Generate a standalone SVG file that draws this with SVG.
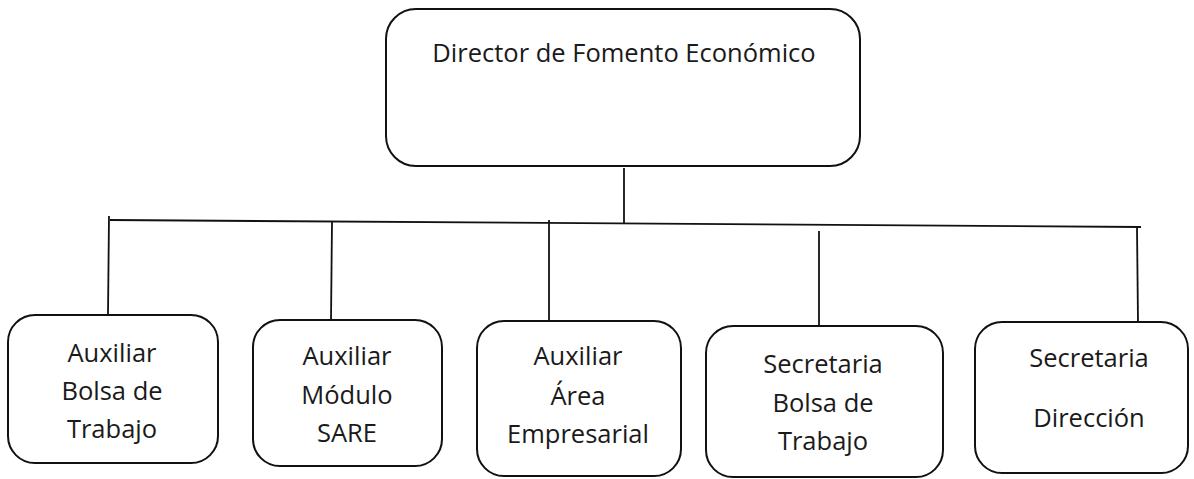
<svg xmlns="http://www.w3.org/2000/svg" width="1194" height="479" viewBox="0 0 1194 479">
<style>
.box{fill:#fff;stroke:#111;stroke-width:2}
.ln{stroke:#111;stroke-width:1.8;fill:none}
text{font-family:"Open Sans","Noto Sans",sans-serif;font-size:25.5px;fill:#1a1a1a;text-anchor:middle}
</style>
<rect width="1194" height="479" fill="#fff"/>
<g id="connectors">
<line class="ln" x1="624" y1="168" x2="624" y2="224"/>
<line class="ln" x1="110" y1="220" x2="1141" y2="227"/>
<line class="ln" x1="109" y1="216" x2="108" y2="315"/>
<line class="ln" x1="332" y1="222" x2="331" y2="320"/>
<line class="ln" x1="549" y1="220" x2="549" y2="327"/>
<line class="ln" x1="819" y1="231" x2="819" y2="327"/>
<line class="ln" x1="1137" y1="228" x2="1138" y2="322"/>
</g>
<g id="director">
<rect class="box" x="386" y="9" width="474" height="157" rx="30"/>
<text x="624" y="62">Director de Fomento Económico</text>
</g>
<g id="aux-bolsa">
<rect class="box" x="8" y="315" width="210" height="148" rx="27"/>
<text x="112" y="362">Auxiliar</text>
<text x="112" y="400">Bolsa de</text>
<text x="112" y="438">Trabajo</text>
</g>
<g id="aux-sare">
<rect class="box" x="253" y="320" width="189" height="146" rx="27"/>
<text x="347" y="365">Auxiliar</text>
<text x="347" y="404">Módulo</text>
<text x="347" y="442">SARE</text>
</g>
<g id="aux-area">
<rect class="box" x="477" y="321" width="204" height="155" rx="27"/>
<text x="578" y="365">Auxiliar</text>
<text x="578" y="405">Área</text>
<text x="578" y="443">Empresarial</text>
</g>
<g id="sec-bolsa">
<rect class="box" x="706" y="326" width="237" height="151" rx="27"/>
<text x="823" y="373">Secretaria</text>
<text x="823" y="412">Bolsa de</text>
<text x="823" y="450">Trabajo</text>
</g>
<g id="sec-direccion">
<rect class="box" x="975" y="322" width="213" height="151" rx="27"/>
<text x="1089" y="367">Secretaria</text>
<text x="1089" y="427">Dirección</text>
</g>
</svg>
